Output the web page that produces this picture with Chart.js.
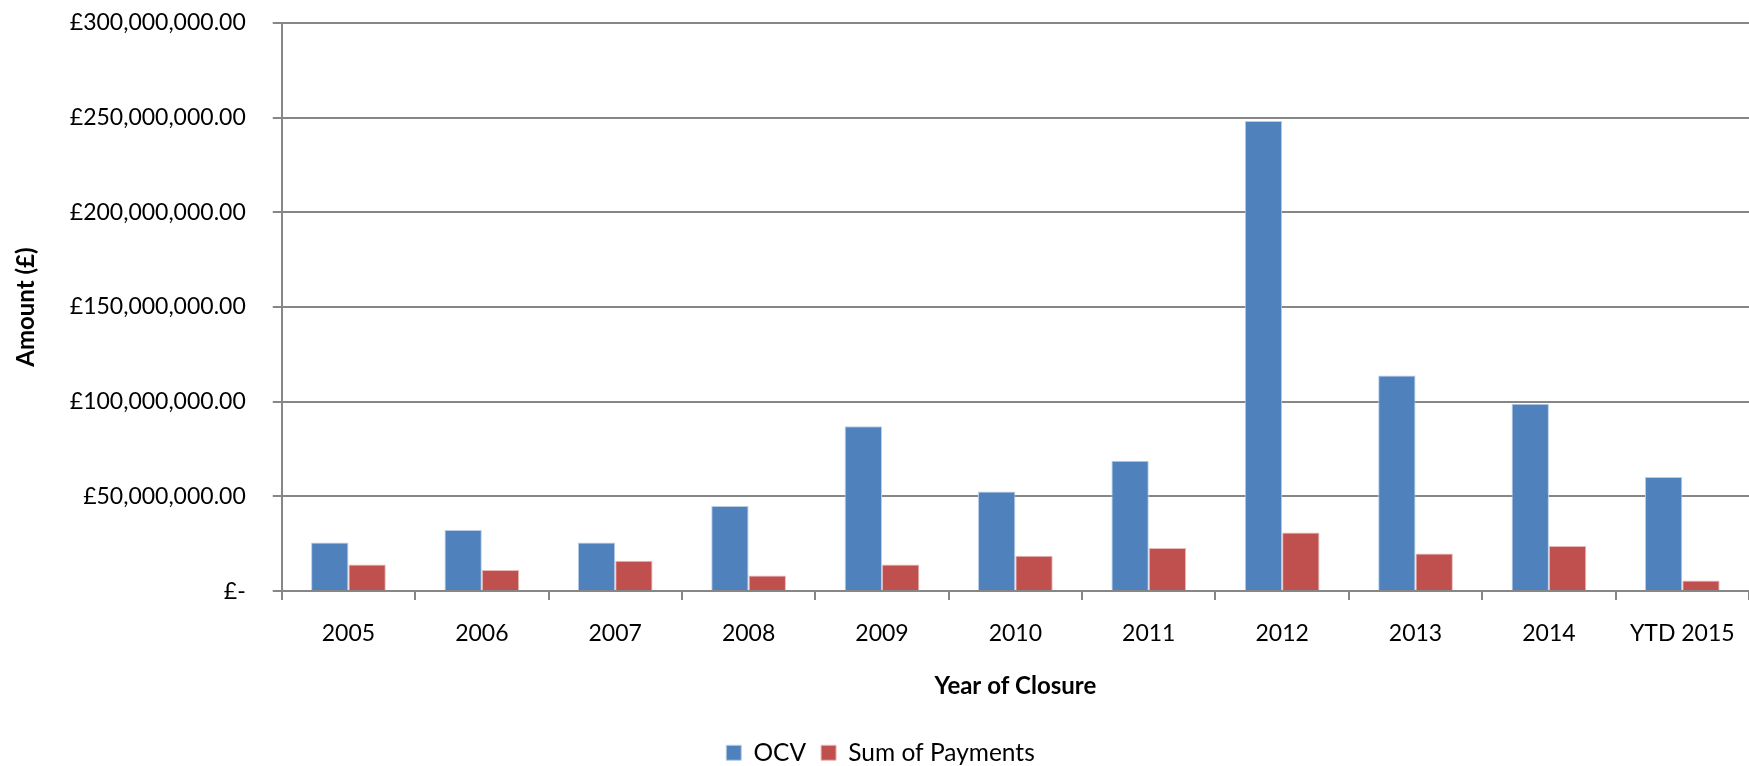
<!DOCTYPE html>
<html>
<head>
<meta charset="utf-8">
<script src="https://cdn.jsdelivr.net/npm/chart.js@4.4.1/dist/chart.umd.min.js"></script>
<style>
  html, body { margin: 0; padding: 0; background: #fff; }
  #wrap { width: 1749px; height: 766px; }
</style>
</head>
<body>
<div id="wrap"><canvas id="closureChart"></canvas></div>
<script>
const years = ['2005', '2006', '2007', '2008', '2009', '2010', '2011', '2012', '2013', '2014', 'YTD 2015'];
const ocv = [25.6e6, 32.3e6, 25.6e6, 44.9e6, 87.0e6, 52.6e6, 68.8e6, 248.3e6, 113.8e6, 98.9e6, 60.2e6];
const payments = [14.0e6, 11.2e6, 16.0e6, 8.3e6, 14.1e6, 18.7e6, 22.7e6, 30.9e6, 19.8e6, 23.8e6, 5.6e6];
const yTicks = [0, 50e6, 100e6, 150e6, 200e6, 250e6, 300e6];

const fontFamily = 'Lato, "Noto Sans", sans-serif';

function poundLabel(v) {
  if (v === 0) return '£-';
  return '£' + v.toLocaleString('en-GB', { minimumFractionDigits: 2, maximumFractionDigits: 2 });
}

const ctx = document.getElementById('closureChart').getContext('2d');
new Chart(ctx, {
  type: 'bar',
  data: {
    labels: years,
    datasets: [
      {
        label: 'OCV',
        data: ocv,
        backgroundColor: '#4F81BD',
        borderColor: '#B9CDE5',
        borderWidth: 1,
        categoryPercentage: 0.56,
        barPercentage: 1
      },
      {
        label: 'Sum of Payments',
        data: payments,
        backgroundColor: '#C0504D',
        borderColor: '#E6B9B8',
        borderWidth: 1,
        categoryPercentage: 0.56,
        barPercentage: 1
      }
    ]
  },
  options: {
    responsive: true,
    maintainAspectRatio: false,
    animation: false,
    layout: { padding: { top: 23, right: 0, left: 12, bottom: -9 } },
    plugins: {
      legend: {
        position: 'bottom',
        labels: {
          font: { family: fontFamily, size: 24.5 },
          color: '#000',
          boxWidth: 15,
          boxHeight: 15,
          padding: 15
        }
      },
      tooltip: { enabled: false }
    },
    scales: {
      x: {
        // plot runs right to the edge, like the original
        afterFit: s => { s.paddingLeft = 0; s.paddingRight = 0; },
        grid: {
          offset: true,
          drawOnChartArea: false,
          drawTicks: true,
          tickLength: 9,
          color: '#868686',
          lineWidth: 2
        },
        border: { color: '#868686', width: 2 },
        ticks: {
          font: { family: fontFamily, size: 23 },
          color: '#000',
          padding: 20,
          maxRotation: 0
        },
        title: {
          display: true,
          text: 'Year of Closure',
          font: { family: fontFamily, size: 24, weight: 'bold' },
          color: '#000',
          padding: { top: 4, bottom: 25 }
        }
      },
      y: {
        min: 0,
        max: 300e6,
        afterFit: s => { s.paddingTop = 0; s.paddingBottom = 0; },
        afterBuildTicks: axis => { axis.ticks = yTicks.map(v => ({ value: v })); },
        grid: {
          color: '#868686',
          lineWidth: 2,
          tickLength: 9
        },
        border: { color: '#868686', width: 2 },
        ticks: {
          font: { family: fontFamily, size: 23 },
          color: '#000',
          padding: 27,
          callback: v => poundLabel(v)
        },
        title: {
          display: true,
          text: 'Amount (£)',
          font: { family: fontFamily, size: 24, weight: 'bold' },
          color: '#000',
          padding: { top: 0, bottom: 2 }
        }
      }
    }
  }
});
</script>
</body>
</html>
